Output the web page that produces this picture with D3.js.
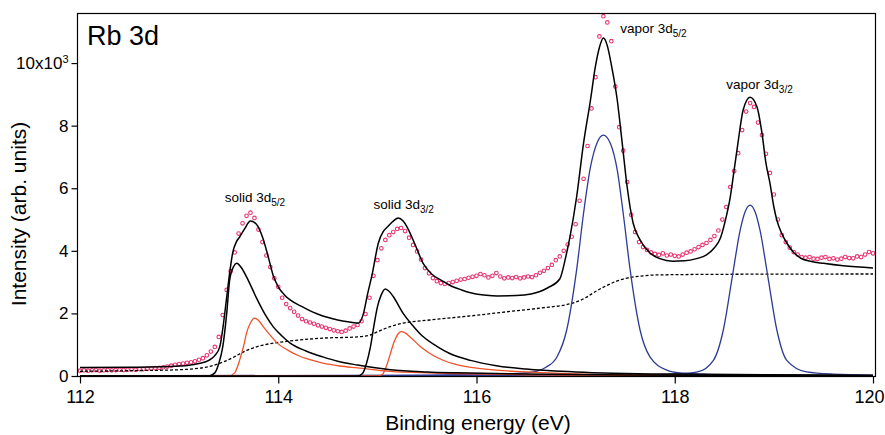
<!DOCTYPE html>
<html>
<head>
<meta charset="utf-8">
<script src="https://cdn.jsdelivr.net/npm/d3@7"></script>
<style>
  body { margin: 0; background: #fff; }
  svg { font-family: "Liberation Sans", Arial, Helvetica, sans-serif; }
  .tick text { fill: #000; }
</style>
</head>
<body>
<svg width="885" height="435"></svg>
<script>
// measured spectrum, one point every 0.04 eV from 112 eV
const dataStart = 112;
const dataStep = 0.04;
const measured = [
  0.17, 0.18, 0.17, 0.18, 0.19, 0.17, 0.18, 0.19, 0.18, 0.19,
  0.20, 0.19, 0.20, 0.21, 0.20, 0.22, 0.22, 0.23, 0.24, 0.25,
  0.26, 0.28, 0.30, 0.33, 0.36, 0.38, 0.40, 0.42, 0.44, 0.47,
  0.52, 0.57, 0.66, 0.78, 0.93, 1.25, 1.95, 2.75, 3.35, 3.95,
  4.55, 4.88, 5.12, 5.22, 5.05, 4.68, 4.28, 3.85, 3.48, 3.12,
  2.85, 2.50, 2.30, 2.17, 2.05, 1.93, 1.82, 1.75, 1.71, 1.67,
  1.62, 1.58, 1.54, 1.50, 1.46, 1.43, 1.41, 1.45, 1.52, 1.58,
  1.63, 1.75, 1.98, 2.50, 3.20, 3.70, 4.08, 4.35, 4.50, 4.60,
  4.70, 4.73, 4.63, 4.42, 4.19, 3.98, 3.72, 3.45, 3.28, 3.13,
  3.03, 2.97, 2.94, 2.97, 3.00, 3.04, 3.08, 3.10, 3.14, 3.17,
  3.20, 3.26, 3.22, 3.15, 3.20, 3.29, 3.18, 3.12, 3.15, 3.13,
  3.16, 3.12, 3.15, 3.18, 3.16, 3.22, 3.30, 3.36, 3.45, 3.55,
  3.70, 3.82, 4.00, 4.20, 4.45, 4.85, 5.60, 6.30, 7.35, 8.55,
  9.55, 10.85, 11.50, 11.30, 10.70, 9.25, 7.95, 7.20, 6.20, 5.15,
  4.60, 4.28, 4.12, 4.03, 3.95, 3.90, 3.87, 3.92, 3.85, 3.88,
  3.84, 3.82, 3.88, 3.94, 3.98, 4.05, 4.12, 4.19, 4.25, 4.35,
  4.47, 4.65, 5.00, 5.40, 6.04, 6.55, 7.12, 7.86, 8.45, 8.72,
  8.60, 8.10, 7.70, 7.10, 6.49, 5.80, 5.00, 4.50, 4.28, 4.10,
  3.96, 3.88, 3.80, 3.78, 3.80, 3.75, 3.74, 3.78, 3.80, 3.74,
  3.76, 3.72, 3.75, 3.80, 3.77, 3.76, 3.82, 3.80, 3.88, 3.96,
  3.92
];

// fitted curves, [energy, intensity]
const totalFit = [
  [112.0, 0.27], [112.5, 0.28], [112.9, 0.30], [113.1, 0.34], [113.2, 0.40],
  [113.3, 0.50], [113.36, 0.65], [113.41, 0.93], [113.44, 1.5], [113.48, 2.52],
  [113.51, 3.3], [113.54, 3.93], [113.58, 4.3], [113.61, 4.44], [113.66, 4.7],
  [113.72, 4.95], [113.78, 4.85], [113.84, 4.45], [113.9, 3.8], [113.95, 3.2],
  [114.0, 2.85], [114.06, 2.6], [114.12, 2.43], [114.25, 2.2], [114.35, 2.04],
  [114.45, 1.92], [114.55, 1.83], [114.65, 1.76], [114.75, 1.71], [114.81, 1.69],
  [114.86, 2.0], [114.9, 2.6], [114.95, 3.29], [115.01, 4.25], [115.06, 4.62],
  [115.1, 4.76], [115.15, 4.92], [115.21, 5.05], [115.26, 4.95], [115.3, 4.76],
  [115.38, 4.2], [115.46, 3.61], [115.55, 3.25], [115.65, 3.05], [115.73, 2.9],
  [115.85, 2.75], [115.94, 2.66], [116.1, 2.58], [116.21, 2.56], [116.4, 2.57],
  [116.55, 2.62], [116.64, 2.7], [116.72, 2.82], [116.84, 3.1], [116.9, 3.8],
  [116.94, 4.4], [117.01, 5.72], [117.08, 7.44], [117.15, 8.82], [117.2, 9.9],
  [117.24, 10.5], [117.28, 10.8], [117.32, 10.55], [117.36, 9.95], [117.42, 8.82],
  [117.47, 7.44], [117.52, 6.04], [117.58, 4.89], [117.65, 4.35], [117.75, 3.93],
  [117.85, 3.75], [117.98, 3.67], [118.1, 3.68], [118.22, 3.75], [118.32, 3.87],
  [118.4, 4.1], [118.46, 4.4], [118.52, 5.1], [118.56, 5.72], [118.6, 6.6],
  [118.64, 7.5], [118.69, 8.5], [118.76, 8.91], [118.83, 8.6], [118.88, 7.76],
  [118.92, 6.8], [118.96, 6.17], [119.0, 5.4], [119.03, 4.98], [119.08, 4.55],
  [119.13, 4.25], [119.2, 3.95], [119.27, 3.77], [119.38, 3.66], [119.5, 3.6],
  [119.7, 3.52], [120.0, 3.45]
];

const solid52 = [
  [112.0, 0], [113.3, 0], [113.36, 0.1], [113.4, 0.4], [113.44, 0.93],
  [113.48, 2.0], [113.51, 3.07], [113.55, 3.5], [113.58, 3.6], [113.63, 3.45],
  [113.68, 3.17], [113.79, 2.43], [113.87, 1.95], [113.95, 1.57], [114.04, 1.27],
  [114.12, 1.05], [114.28, 0.8], [114.45, 0.61], [114.6, 0.47], [114.8, 0.35],
  [115.13, 0.2], [115.5, 0.13], [115.8, 0.1], [116.5, 0.06], [117.5, 0.03],
  [120.0, 0.01]
];

const solid32 = [
  [112.0, 0], [114.8, 0], [114.85, 0.08], [114.89, 0.4], [114.93, 0.93],
  [114.97, 1.7], [115.0, 2.2], [115.04, 2.6], [115.08, 2.78], [115.12, 2.7],
  [115.16, 2.54], [115.26, 2.0], [115.36, 1.6], [115.46, 1.26], [115.6, 0.95],
  [115.73, 0.72], [115.94, 0.5], [116.2, 0.33], [116.5, 0.22], [117.0, 0.13],
  [118.0, 0.06], [120.0, 0.02]
];

const solid52b = [
  [112.0, 0], [113.5, 0], [113.56, 0.1], [113.61, 0.5], [113.65, 0.95],
  [113.68, 1.37], [113.72, 1.7], [113.76, 1.85], [113.8, 1.78], [113.85, 1.57],
  [113.92, 1.3], [113.99, 1.05], [114.1, 0.82], [114.19, 0.67], [114.32, 0.52],
  [114.45, 0.41], [114.62, 0.32], [114.8, 0.26], [115.13, 0.15], [115.5, 0.1],
  [115.8, 0.08], [116.5, 0.04], [117.5, 0.02], [120.0, 0.01]
];

const solid32b = [
  [112.0, 0], [115.0, 0], [115.05, 0.05], [115.09, 0.3], [115.13, 0.7],
  [115.17, 1.1], [115.21, 1.35], [115.24, 1.42], [115.28, 1.38], [115.33, 1.25],
  [115.43, 0.95], [115.53, 0.72], [115.65, 0.52], [115.8, 0.36], [116.0, 0.25],
  [116.5, 0.13], [117.0, 0.07], [118.0, 0.03], [120.0, 0.01]
];

const vapor52 = [
  [112.0, 0], [115.5, 0.03], [116.0, 0.05], [116.4, 0.08], [116.57, 0.13],
  [116.7, 0.28], [116.81, 0.6], [116.91, 1.47], [117.01, 3.39], [117.08, 5.2],
  [117.15, 6.68], [117.22, 7.48], [117.28, 7.7], [117.35, 7.44], [117.42, 6.58],
  [117.48, 5.2], [117.55, 3.39], [117.65, 1.47], [117.75, 0.61], [117.92, 0.19],
  [118.05, 0.1], [118.5, 0.04], [120.0, 0.01]
];

const vapor32 = [
  [112.0, 0], [117.5, 0.02], [118.0, 0.06], [118.23, 0.13], [118.39, 0.5],
  [118.49, 1.47], [118.58, 3.16], [118.66, 4.66], [118.71, 5.25], [118.76, 5.46],
  [118.81, 5.25], [118.86, 4.66], [118.94, 3.16], [119.03, 1.47], [119.13, 0.5],
  [119.33, 0.13], [119.6, 0.06], [120.0, 0.03]
];

const background = [
  [112.0, 0.15], [112.5, 0.17], [113.0, 0.2], [113.11, 0.22], [113.3, 0.3],
  [113.44, 0.44], [113.55, 0.6], [113.65, 0.77], [113.75, 0.9], [113.85, 0.99],
  [114.0, 1.07], [114.12, 1.12], [114.45, 1.21], [114.8, 1.25], [114.92, 1.3],
  [115.0, 1.41], [115.13, 1.58], [115.26, 1.69], [115.53, 1.79], [115.94, 1.92],
  [116.3, 2.05], [116.64, 2.17], [116.97, 2.33], [117.1, 2.5], [117.2, 2.7],
  [117.32, 2.9], [117.42, 3.04], [117.52, 3.13], [117.65, 3.19], [117.82, 3.23],
  [118.5, 3.25], [120.0, 3.26]
];

const xTicks = [112, 114, 116, 118, 120];
const yTicks = [0, 2, 4, 6, 8, 10];

const peakLabels = ['solid 3d', 'solid 3d', 'vapor 3d', 'vapor 3d'];
const peakSubs = ['5/2', '3/2', '5/2', '3/2'];
const peakAt = [[113.46, 5.56], [114.96, 5.34], [117.45, 10.96], [118.52, 9.17]];

const svg = d3.select('svg');

const plotLeft = 77, plotRight = 875, plotTop = 13, plotBottom = 376;

const x = d3.scaleLinear()
  .domain([112, 120])
  .range([80, 873]);

const y = d3.scaleLinear()
  .domain([0, 11.6])
  .range([plotBottom, plotTop]);

svg.append('clipPath')
  .attr('id', 'plot')
  .append('rect')
  .attr('x', plotLeft)
  .attr('y', plotTop)
  .attr('width', plotRight - plotLeft)
  .attr('height', plotBottom - plotTop + 1);

const plot = svg.append('g').attr('clip-path', 'url(#plot)');

const line = d3.line()
  .x(d => x(d[0]))
  .y(d => y(d[1]))
  .curve(d3.curveMonotoneX);

// data points
plot.append('g')
  .selectAll('circle')
  .data(measured)
  .enter()
  .append('circle')
  .attr('cx', (d, i) => x(dataStart + i * dataStep))
  .attr('cy', d => y(d))
  .attr('r', 1.8)
  .attr('fill', 'none')
  .attr('stroke', '#e8336e')
  .attr('stroke-width', 1.1);

plot.append('path')
  .datum(background)
  .attr('d', line)
  .attr('fill', 'none')
  .attr('stroke', '#000')
  .attr('stroke-width', 1.3)
  .attr('stroke-dasharray', '3,2');

const curves = [
  [vapor52, '#2e3a94'],
  [vapor32, '#2e3a94'],
  [solid52b, '#f0522a'],
  [solid32b, '#f0522a'],
  [solid52, '#000'],
  [solid32, '#000'],
  [totalFit, '#000']
];

curves.forEach(c => {
  plot.append('path')
    .datum(c[0])
    .attr('d', line)
    .attr('fill', 'none')
    .attr('stroke', c[1])
    .attr('stroke-width', c[1] === '#000' ? 1.5 : 1.3);
});

// frame
svg.append('rect')
  .attr('x', plotLeft + 0.5)
  .attr('y', plotTop + 0.5)
  .attr('width', plotRight - plotLeft)
  .attr('height', plotBottom - plotTop)
  .attr('fill', 'none')
  .attr('stroke', '#000')
  .attr('stroke-width', 1.2);

const xAxis = svg.append('g')
  .attr('transform', `translate(0, ${plotBottom + 0.5})`)
  .call(d3.axisBottom(x).tickValues(xTicks).tickSize(7).tickPadding(7).tickSizeOuter(0));
xAxis.select('.domain').remove();
xAxis.selectAll('line').attr('stroke-width', 1.2);
xAxis.selectAll('text').attr('font-size', '18px').attr('font-family', null);
// last label sits against the page edge
xAxis.selectAll('.tick')
  .filter(d => d === 120)
  .select('text')
  .attr('dx', -4);

const yAxis = svg.append('g')
  .attr('transform', `translate(${plotLeft + 0.5}, 0)`)
  .call(d3.axisLeft(y).tickValues(yTicks).tickSize(6).tickPadding(3).tickSizeOuter(0));
yAxis.select('.domain').remove();
yAxis.selectAll('line').attr('stroke-width', 1.2);
yAxis.selectAll('text').attr('font-size', '17px').attr('font-family', null);

// top tick label carries the 10^3 multiplier
const topLabel = yAxis.selectAll('.tick')
  .filter(d => d === 10)
  .select('text')
  .text(null);
topLabel.append('tspan').text('10x10');
topLabel.append('tspan')
  .attr('font-size', '11px')
  .attr('dy', '-0.55em')
  .text('3');

svg.append('text')
  .attr('x', 87)
  .attr('y', 45)
  .attr('font-size', '27px')
  .text('Rb 3d');

svg.append('text')
  .attr('x', 478)
  .attr('y', 430)
  .attr('text-anchor', 'middle')
  .attr('font-size', '21px')
  .text('Binding energy (eV)');

svg.append('text')
  .attr('transform', 'rotate(-90)')
  .attr('x', -214)
  .attr('y', 26)
  .attr('text-anchor', 'middle')
  .attr('font-size', '21px')
  .text('Intensity (arb. units)');

peakLabels.forEach((t, i) => {
  const lbl = svg.append('text')
    .attr('x', x(peakAt[i][0]))
    .attr('y', y(peakAt[i][1]))
    .attr('font-size', '13.5px');
  lbl.append('tspan').text(t);
  lbl.append('tspan')
    .attr('font-size', '10px')
    .attr('dy', 4)
    .text(peakSubs[i]);
});
</script>
</body>
</html>
